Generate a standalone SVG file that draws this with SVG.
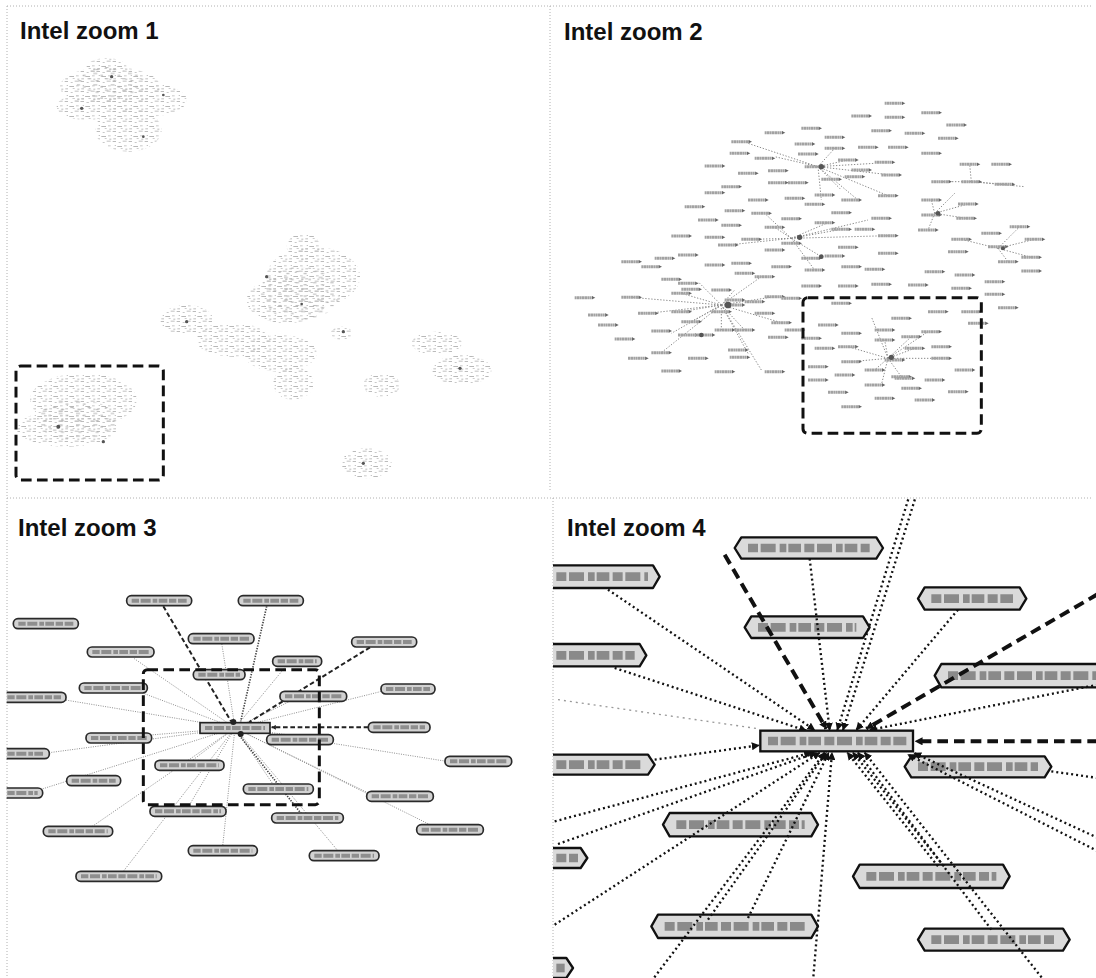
<svg xmlns="http://www.w3.org/2000/svg" xmlns:xlink="http://www.w3.org/1999/xlink" width="1096" height="978" viewBox="0 0 1096 978">
<defs>
<style>
.t{font-family:"Liberation Sans",Arial,sans-serif;font-weight:bold;font-size:24px;fill:#111}
.bd{fill:none;stroke:#b0b0b0;stroke-width:1;stroke-dasharray:1 2}
.dr{fill:none;stroke:#111;stroke-width:9;stroke-dasharray:32 16;stroke-linejoin:round}
.p2l{fill:none;stroke:#8a8a8a;stroke-width:3;stroke-dasharray:4 5}
.p3l{fill:none;stroke:#8f8f8f;stroke-width:3;stroke-dasharray:3 4}
.p3d{fill:none;stroke:#222;stroke-width:6;stroke-dasharray:14 8}
.p3k{fill:none;stroke:#444;stroke-width:5;stroke-dasharray:4 4}
.pl3{fill:#d2d2d2;stroke:#2a2a2a;stroke-width:5}
.tx3{stroke:#8e8e8e;stroke-width:12;stroke-dasharray:22 5 30 6 14 4 26 5}
.pl4{fill:#dadada;stroke:#111;stroke-width:7;stroke-linejoin:round}
.tx4{stroke:#8a8a8a;stroke-width:26;stroke-dasharray:30 8 45 12 20 6 38 10}
.hd{fill:none;stroke:#111;stroke-width:7;stroke-dasharray:6 9}
.ld{fill:none;stroke:#999;stroke-width:4;stroke-dasharray:6 12}
.td{fill:none;stroke:#111;stroke-width:12;stroke-dasharray:32 18}
.hub{fill:#555}
</style>
<pattern id="sp" patternUnits="userSpaceOnUse" width="48" height="30">
<rect x="2" y="3" width="10" height="3" fill="#bcbcbc"/><rect x="20" y="6" width="6" height="3" fill="#c8c8c8"/><rect x="32" y="2" width="12" height="3" fill="#c0c0c0"/><rect x="8" y="15" width="4" height="3" fill="#c4c4c4"/><rect x="16" y="18" width="14" height="3" fill="#b8b8b8"/><rect x="36" y="16" width="8" height="3" fill="#c8c8c8"/><rect x="4" y="25" width="8" height="3" fill="#c0c0c0"/><rect x="26" y="24" width="6" height="3" fill="#cccccc"/><rect x="40" y="26" width="6" height="3" fill="#bcbcbc"/>
</pattern>
<pattern id="sp2" patternUnits="userSpaceOnUse" x="17" y="11" width="52" height="34">
<rect x="3" y="4" width="12" height="3" fill="#b4b4b4"/><rect x="24" y="10" width="8" height="3" fill="#aaaaaa"/><rect x="38" y="20" width="10" height="3" fill="#b6b6b6"/><rect x="10" y="26" width="9" height="3" fill="#acacac"/>
</pattern>
<g id="l"><line x1="-30" y1="0" x2="24" y2="0" stroke="#a2a2a2" stroke-width="9" stroke-dasharray="6 1 8 1 5 1"/><path d="M22,-5 L32,0 L22,5 Z" fill="#666"/></g>
<marker id="ah" markerUnits="userSpaceOnUse" viewBox="0 0 10 10" refX="9" refY="5" markerWidth="24" markerHeight="24" orient="auto"><path d="M0,0 L10,5 L0,10 Z" fill="#111"/></marker>
<marker id="ah3" markerUnits="userSpaceOnUse" viewBox="0 0 10 10" refX="9" refY="5" markerWidth="14" markerHeight="14" orient="auto"><path d="M0,0 L10,5 L0,10 Z" fill="#222"/></marker>
<clipPath id="c4"><rect x="15" y="30" width="1629" height="1470"/></clipPath>
<clipPath id="c3"><rect x="20" y="30" width="1620" height="1440"/></clipPath>
</defs>
<rect width="1096" height="978" fill="#fff"/>

<g id="borders">
<line class="bd" x1="7" y1="6" x2="1092" y2="6"/>
<line class="bd" x1="7" y1="6" x2="7" y2="976"/>
<line class="bd" x1="550" y1="6" x2="550" y2="492"/>
<line class="bd" x1="7" y1="498" x2="1092" y2="498"/>
<line class="bd" x1="553" y1="498" x2="553" y2="976"/>
</g>

<g id="panel1" transform="scale(0.333333)">
<g id="clusters1">
<ellipse cx="330" cy="260" rx="150" ry="60" fill="url(#sp)"/>
<ellipse cx="440" cy="300" rx="120" ry="50" fill="url(#sp)"/>
<ellipse cx="260" cy="320" rx="90" ry="40" fill="url(#sp)"/>
<ellipse cx="385" cy="390" rx="100" ry="65" fill="url(#sp)"/>
<ellipse cx="320" cy="200" rx="60" ry="25" fill="url(#sp)"/>
<ellipse cx="330" cy="250" rx="100" ry="50" fill="url(#sp2)"/>
<ellipse cx="940" cy="830" rx="140" ry="90" fill="url(#sp)"/>
<ellipse cx="860" cy="900" rx="120" ry="70" fill="url(#sp)"/>
<ellipse cx="910" cy="740" rx="50" ry="40" fill="url(#sp)"/>
<ellipse cx="900" cy="880" rx="120" ry="80" fill="url(#sp2)"/>
<ellipse cx="560" cy="960" rx="80" ry="45" fill="url(#sp)"/>
<ellipse cx="700" cy="1020" rx="110" ry="50" fill="url(#sp)"/>
<ellipse cx="840" cy="1060" rx="110" ry="55" fill="url(#sp)"/>
<ellipse cx="880" cy="1150" rx="60" ry="50" fill="url(#sp)"/>
<ellipse cx="1025" cy="1000" rx="32" ry="20" fill="url(#sp)"/>
<ellipse cx="1310" cy="1030" rx="75" ry="35" fill="url(#sp)"/>
<ellipse cx="1385" cy="1110" rx="90" ry="45" fill="url(#sp)"/>
<ellipse cx="1145" cy="1155" rx="55" ry="35" fill="url(#sp)"/>
<ellipse cx="1100" cy="1390" rx="75" ry="45" fill="url(#sp)"/>
<ellipse cx="250" cy="1200" rx="160" ry="80" fill="url(#sp)"/>
<ellipse cx="200" cy="1285" rx="150" ry="55" fill="url(#sp)"/>
<ellipse cx="230" cy="1260" rx="120" ry="60" fill="url(#sp2)"/>
</g>
<g id="hubs1" class="hub">
<circle cx="335" cy="230" r="5"/><circle cx="245" cy="325" r="5"/><circle cx="490" cy="285" r="4"/><circle cx="430" cy="410" r="4"/>
<circle cx="800" cy="830" r="5"/><circle cx="560" cy="965" r="5"/><circle cx="1030" cy="995" r="5"/><circle cx="1380" cy="1105" r="5"/>
<circle cx="1090" cy="1390" r="5"/><circle cx="175" cy="1280" r="6"/><circle cx="310" cy="1325" r="5"/><circle cx="905" cy="912" r="4"/>
</g>
<rect id="box1" class="dr" x="48" y="1098" width="442" height="342" rx="14"/>
</g>
<text class="t" x="20" y="39">Intel zoom 1</text>

<g id="panel2" transform="translate(548,0) scale(0.333333)">
<g id="connectors2">
<path class="p2l" d="M810,500 L680,470 M810,500 L860,445 M810,500 L900,480 M810,500 L980,490 M810,500 L1030,525 M810,500 L820,600 M810,500 L880,570 M810,500 L930,600 M810,500 L1020,587 M810,500 L600,430"/>
<path class="p2l" d="M730,715 L610,718 M730,715 L540,735 M730,715 L680,682 M730,715 L880,688 M730,715 L1020,707 M730,715 L820,770 M730,715 L650,640 M730,715 L840,668 M730,715 L800,810 M730,715 L960,660"/>
<path class="p2l" d="M520,915 L400,880 M520,915 L300,940 M520,915 L250,892 M520,915 L400,935 M520,915 L430,965 M520,915 L520,990 M520,915 L590,990 M520,915 L640,830 M520,915 L680,890 M520,915 L560,870 M520,915 L450,845 M520,915 L600,1060 M520,915 L640,1110 M520,915 L340,1058 M520,915 L370,1000 M520,915 L700,968"/>
<path class="p2l" d="M1020,1075 L970,950 M1020,1075 L910,1085 M1020,1075 L1010,1020 M1020,1075 L1090,1010 M1020,1075 L1180,1075 M1020,1075 L1100,1045 M1020,1075 L1060,1130 M1020,1075 L980,1110 M1020,1075 L1000,1155 M1020,1075 L1140,995 M1020,1075 L900,1040"/>
<path class="p2l" d="M1160,640 L1150,600 M1160,640 L1260,612 M1160,640 L1255,655 M1160,640 L1140,690 M1160,640 L1220,580 M1350,745 L1415,680 M1350,745 L1460,718 M1350,745 L1450,772 M1350,745 L1240,718 M1350,745 L1380,785 M1270,545 L1265,493 M1270,545 L1370,553 M1270,545 L1180,545 M1270,545 L1430,560"/>
</g>
<g id="labels2">
<use href="#l" x="1040" y="310"/><use href="#l" x="1150" y="338"/><use href="#l" x="940" y="348"/><use href="#l" x="1040" y="352"/><use href="#l" x="1225" y="375"/><use href="#l" x="790" y="385"/><use href="#l" x="680" y="398"/><use href="#l" x="1000" y="392"/><use href="#l" x="1100" y="400"/><use href="#l" x="1200" y="415"/>
<use href="#l" x="580" y="425"/><use href="#l" x="860" y="412"/><use href="#l" x="770" y="432"/><use href="#l" x="860" y="445"/><use href="#l" x="960" y="442"/><use href="#l" x="1050" y="442"/><use href="#l" x="1150" y="460"/><use href="#l" x="575" y="460"/><use href="#l" x="650" y="475"/><use href="#l" x="780" y="462"/>
<use href="#l" x="900" y="480"/><use href="#l" x="1010" y="487"/><use href="#l" x="500" y="498"/><use href="#l" x="600" y="520"/><use href="#l" x="690" y="512"/><use href="#l" x="800" y="500"/><use href="#l" x="940" y="510"/><use href="#l" x="1030" y="525"/><use href="#l" x="1265" y="493"/><use href="#l" x="1360" y="493"/>
<use href="#l" x="550" y="560"/><use href="#l" x="690" y="548"/><use href="#l" x="750" y="548"/><use href="#l" x="850" y="538"/><use href="#l" x="920" y="530"/><use href="#l" x="1180" y="545"/><use href="#l" x="1270" y="545"/><use href="#l" x="1370" y="553"/><use href="#l" x="500" y="578"/><use href="#l" x="630" y="600"/>
<use href="#l" x="740" y="595"/><use href="#l" x="830" y="585"/><use href="#l" x="910" y="600"/><use href="#l" x="1020" y="587"/><use href="#l" x="800" y="613"/><use href="#l" x="440" y="620"/><use href="#l" x="560" y="632"/><use href="#l" x="640" y="640"/><use href="#l" x="880" y="638"/><use href="#l" x="1150" y="600"/>
<use href="#l" x="1260" y="612"/><use href="#l" x="480" y="660"/><use href="#l" x="550" y="676"/><use href="#l" x="730" y="656"/><use href="#l" x="830" y="668"/><use href="#l" x="1000" y="655"/><use href="#l" x="1150" y="645"/><use href="#l" x="1255" y="655"/><use href="#l" x="400" y="708"/><use href="#l" x="500" y="712"/>
<use href="#l" x="610" y="718"/><use href="#l" x="680" y="682"/><use href="#l" x="880" y="688"/><use href="#l" x="950" y="688"/><use href="#l" x="1020" y="707"/><use href="#l" x="1140" y="690"/><use href="#l" x="1330" y="700"/><use href="#l" x="1415" y="680"/><use href="#l" x="540" y="735"/><use href="#l" x="730" y="730"/>
<use href="#l" x="900" y="742"/><use href="#l" x="1020" y="760"/><use href="#l" x="1230" y="755"/><use href="#l" x="1240" y="718"/><use href="#l" x="1350" y="740"/><use href="#l" x="1460" y="718"/><use href="#l" x="350" y="775"/><use href="#l" x="420" y="765"/><use href="#l" x="250" y="785"/><use href="#l" x="310" y="800"/>
<use href="#l" x="500" y="795"/><use href="#l" x="580" y="790"/><use href="#l" x="680" y="750"/><use href="#l" x="790" y="775"/><use href="#l" x="860" y="768"/><use href="#l" x="910" y="800"/><use href="#l" x="980" y="808"/><use href="#l" x="1380" y="785"/><use href="#l" x="1450" y="772"/><use href="#l" x="1450" y="813"/>
<use href="#l" x="370" y="838"/><use href="#l" x="420" y="850"/><use href="#l" x="590" y="820"/><use href="#l" x="650" y="830"/><use href="#l" x="700" y="800"/><use href="#l" x="800" y="810"/><use href="#l" x="1160" y="815"/><use href="#l" x="1250" y="825"/><use href="#l" x="1340" y="845"/><use href="#l" x="1340" y="883"/>
<use href="#l" x="1380" y="923"/><use href="#l" x="110" y="893"/><use href="#l" x="250" y="892"/><use href="#l" x="400" y="880"/><use href="#l" x="430" y="868"/><use href="#l" x="520" y="870"/><use href="#l" x="560" y="900"/><use href="#l" x="620" y="905"/><use href="#l" x="680" y="890"/><use href="#l" x="730" y="895"/>
<use href="#l" x="790" y="858"/><use href="#l" x="900" y="858"/><use href="#l" x="1000" y="853"/><use href="#l" x="1110" y="855"/><use href="#l" x="1240" y="865"/><use href="#l" x="150" y="945"/><use href="#l" x="180" y="975"/><use href="#l" x="300" y="940"/><use href="#l" x="400" y="935"/><use href="#l" x="430" y="965"/>
<use href="#l" x="520" y="935"/><use href="#l" x="560" y="915"/><use href="#l" x="650" y="940"/><use href="#l" x="700" y="968"/><use href="#l" x="740" y="990"/><use href="#l" x="840" y="975"/><use href="#l" x="880" y="910"/><use href="#l" x="1170" y="935"/><use href="#l" x="1270" y="935"/><use href="#l" x="1290" y="970"/>
<use href="#l" x="230" y="1017"/><use href="#l" x="340" y="993"/><use href="#l" x="420" y="1005"/><use href="#l" x="470" y="1005"/><use href="#l" x="530" y="990"/><use href="#l" x="590" y="990"/><use href="#l" x="690" y="1012"/><use href="#l" x="790" y="1015"/><use href="#l" x="910" y="1000"/><use href="#l" x="1010" y="990"/>
<use href="#l" x="1060" y="955"/><use href="#l" x="1150" y="995"/><use href="#l" x="830" y="1045"/><use href="#l" x="900" y="1040"/><use href="#l" x="1010" y="1020"/><use href="#l" x="1090" y="1010"/><use href="#l" x="1180" y="1040"/><use href="#l" x="340" y="1058"/><use href="#l" x="270" y="1075"/><use href="#l" x="450" y="1075"/>
<use href="#l" x="570" y="1050"/><use href="#l" x="575" y="1072"/><use href="#l" x="680" y="1115"/><use href="#l" x="530" y="1115"/><use href="#l" x="370" y="1113"/><use href="#l" x="910" y="1085"/><use href="#l" x="1040" y="1080"/><use href="#l" x="1100" y="1045"/><use href="#l" x="1180" y="1075"/><use href="#l" x="810" y="1100"/>
<use href="#l" x="890" y="1125"/><use href="#l" x="980" y="1110"/><use href="#l" x="1060" y="1130"/><use href="#l" x="1250" y="1110"/><use href="#l" x="810" y="1140"/><use href="#l" x="980" y="1155"/><use href="#l" x="1070" y="1135"/><use href="#l" x="1160" y="1140"/><use href="#l" x="870" y="1177"/><use href="#l" x="1090" y="1165"/>
<use href="#l" x="1230" y="1175"/><use href="#l" x="1010" y="1195"/><use href="#l" x="1130" y="1200"/><use href="#l" x="910" y="1220"/>
</g>
<g id="hubs2" class="hub">
<circle cx="820" cy="500" r="8"/><circle cx="755" cy="712" r="8"/><circle cx="540" cy="915" r="10"/><circle cx="1030" cy="1072" r="8"/><circle cx="1170" cy="640" r="7"/><circle cx="1365" cy="745" r="6"/><circle cx="460" cy="1005" r="7"/><circle cx="820" cy="770" r="7"/>
</g>
<rect id="box2" class="dr" x="765" y="893" width="535" height="407" rx="14"/>
</g>
<text class="t" x="564" y="40">Intel zoom 2</text>

<g id="panel3" transform="translate(0,488) scale(0.333333)">
<g clip-path="url(#c3)">
<g id="connectors3">
<path class="p3l" d="M705,720 L665,465 M705,720 L400,510 M705,720 L420,612 M705,720 L860,532 M705,720 L1145,610 M705,720 L190,635 M705,720 L440,742 M705,720 L140,795 M705,720 L120,905 M705,720 L1340,820 M705,720 L560,830 M705,720 L830,905 M705,720 L1115,920 M705,720 L1300,1015 M705,720 L560,965 M705,720 L270,1020 M705,720 L668,1075 M705,720 L1015,1090 M705,720 L370,1150 M705,720 L880,635 M705,720 L900,745"/>
<path class="p3k" d="M800,355 L722,700"/>
<path class="p3k" d="M718,742 L910,985"/>
<path class="p3d" d="M490,355 L693,700"/>
<path class="p3d" d="M1110,478 L748,702"/>
<path class="p3d" d="M1105,718 L815,718" marker-end="url(#ah3)"/>
</g>
<g id="pills3">
<rect class="pl3" x="380" y="323" width="195" height="30" rx="14"/><line class="tx3" x1="395" y1="338" x2="560" y2="338"/>
<rect class="pl3" x="715" y="323" width="195" height="30" rx="14"/><line class="tx3" x1="730" y1="338" x2="895" y2="338"/>
<rect class="pl3" x="40" y="392" width="195" height="30" rx="14"/><line class="tx3" x1="55" y1="407" x2="220" y2="407"/>
<rect class="pl3" x="565" y="437" width="197" height="30" rx="14"/><line class="tx3" x1="580" y1="452" x2="747" y2="452"/>
<rect class="pl3" x="1055" y="447" width="195" height="30" rx="14"/><line class="tx3" x1="1070" y1="462" x2="1235" y2="462"/>
<rect class="pl3" x="262" y="477" width="200" height="30" rx="14"/><line class="tx3" x1="277" y1="492" x2="447" y2="492"/>
<rect class="pl3" x="818" y="505" width="147" height="30" rx="14"/><line class="tx3" x1="833" y1="520" x2="950" y2="520"/>
<rect class="pl3" x="580" y="545" width="155" height="30" rx="14"/><line class="tx3" x1="595" y1="560" x2="720" y2="560"/>
<rect class="pl3" x="238" y="585" width="204" height="30" rx="14"/><line class="tx3" x1="253" y1="600" x2="427" y2="600"/>
<rect class="pl3" x="1143" y="588" width="162" height="30" rx="14"/><line class="tx3" x1="1158" y1="603" x2="1290" y2="603"/>
<rect class="pl3" x="0" y="613" width="198" height="30" rx="14"/><line class="tx3" x1="22" y1="628" x2="183" y2="628"/>
<rect class="pl3" x="840" y="610" width="200" height="30" rx="14"/><line class="tx3" x1="855" y1="625" x2="1025" y2="625"/>
<rect class="pl3" x="1105" y="703" width="185" height="30" rx="14"/><line class="tx3" x1="1120" y1="718" x2="1275" y2="718"/>
<rect class="pl3" x="258" y="735" width="197" height="30" rx="14"/><line class="tx3" x1="273" y1="750" x2="440" y2="750"/>
<rect class="pl3" x="800" y="740" width="200" height="30" rx="14"/><line class="tx3" x1="815" y1="755" x2="985" y2="755"/>
<rect class="pl3" x="0" y="782" width="148" height="30" rx="14"/><line class="tx3" x1="22" y1="797" x2="133" y2="797"/>
<rect class="pl3" x="1335" y="805" width="200" height="30" rx="14"/><line class="tx3" x1="1350" y1="820" x2="1520" y2="820"/>
<rect class="pl3" x="465" y="817" width="207" height="30" rx="14"/><line class="tx3" x1="480" y1="832" x2="657" y2="832"/>
<rect class="pl3" x="200" y="863" width="162" height="30" rx="14"/><line class="tx3" x1="215" y1="878" x2="347" y2="878"/>
<rect class="pl3" x="0" y="900" width="128" height="30" rx="14"/><line class="tx3" x1="22" y1="915" x2="113" y2="915"/>
<rect class="pl3" x="730" y="888" width="210" height="30" rx="14"/><line class="tx3" x1="745" y1="903" x2="925" y2="903"/>
<rect class="pl3" x="1100" y="910" width="200" height="30" rx="14"/><line class="tx3" x1="1115" y1="925" x2="1285" y2="925"/>
<rect class="pl3" x="450" y="955" width="228" height="30" rx="14"/><line class="tx3" x1="465" y1="970" x2="663" y2="970"/>
<rect class="pl3" x="815" y="975" width="215" height="30" rx="14"/><line class="tx3" x1="830" y1="990" x2="1015" y2="990"/>
<rect class="pl3" x="130" y="1015" width="208" height="30" rx="14"/><line class="tx3" x1="145" y1="1030" x2="323" y2="1030"/>
<rect class="pl3" x="1250" y="1010" width="200" height="30" rx="14"/><line class="tx3" x1="1265" y1="1025" x2="1435" y2="1025"/>
<rect class="pl3" x="565" y="1073" width="207" height="30" rx="14"/><line class="tx3" x1="580" y1="1088" x2="757" y2="1088"/>
<rect class="pl3" x="928" y="1088" width="209" height="30" rx="14"/><line class="tx3" x1="943" y1="1103" x2="1122" y2="1103"/>
<rect class="pl3" x="228" y="1150" width="257" height="30" rx="14"/><line class="tx3" x1="243" y1="1165" x2="470" y2="1165"/>
</g>
<g id="hub3">
<rect x="600" y="704" width="210" height="32" fill="#cfcfcf" stroke="#222" stroke-width="5"/>
<line class="tx3" x1="615" y1="720" x2="795" y2="720"/>
<circle cx="700" cy="702" r="9" fill="#222"/><circle cx="722" cy="738" r="9" fill="#222"/>
</g>
<rect id="box3" class="dr" x="430" y="545" width="528" height="405" rx="12"/>
</g>
</g>
<text class="t" x="18" y="536">Intel zoom 3</text>

<g id="panel4" transform="translate(548,488) scale(0.333333)">
<g clip-path="url(#c4)">
<g id="pills4">
<path class="pl4" d="M580,148 H985 L1005,180 L985,212 H580 L560,180 Z"/><line class="tx4" x1="600" y1="180" x2="965" y2="180"/>
<path class="pl4" d="M-10,232 H315 L335,266 L315,300 H-10 Z"/><line class="tx4" x1="25" y1="266" x2="300" y2="266"/>
<path class="pl4" d="M1130,298 H1415 L1435,332 L1415,365 H1130 L1110,332 Z"/><line class="tx4" x1="1150" y1="332" x2="1395" y2="332"/>
<path class="pl4" d="M610,385 H945 L965,418 L945,450 H610 L590,418 Z"/><line class="tx4" x1="630" y1="418" x2="925" y2="418"/>
<path class="pl4" d="M-10,468 H275 L295,502 L275,535 H-10 Z"/><line class="tx4" x1="25" y1="502" x2="260" y2="502"/>
<path class="pl4" d="M1180,528 H1700 V598 H1180 L1160,563 Z"/><line class="tx4" x1="1200" y1="563" x2="1650" y2="563"/>
<path class="pl4" d="M-10,800 H300 L320,830 L300,860 H-10 Z"/><line class="tx4" x1="25" y1="830" x2="285" y2="830"/>
<path class="pl4" d="M1090,805 H1490 L1510,836 L1490,868 H1090 L1070,836 Z"/><line class="tx4" x1="1110" y1="836" x2="1470" y2="836"/>
<path class="pl4" d="M365,975 H790 L810,1010 L790,1045 H365 L345,1010 Z"/><line class="tx4" x1="385" y1="1010" x2="770" y2="1010"/>
<path class="pl4" d="M-10,1080 H98 L118,1110 L98,1140 H-10 Z"/><line class="tx4" x1="25" y1="1110" x2="90" y2="1110"/>
<path class="pl4" d="M935,1130 H1365 L1385,1165 L1365,1200 H935 L915,1165 Z"/><line class="tx4" x1="955" y1="1165" x2="1345" y2="1165"/>
<path class="pl4" d="M330,1280 H790 L810,1315 L790,1350 H330 L310,1315 Z"/><line class="tx4" x1="350" y1="1315" x2="770" y2="1315"/>
<path class="pl4" d="M1130,1322 H1545 L1565,1355 L1545,1388 H1130 L1110,1355 Z"/><line class="tx4" x1="1150" y1="1355" x2="1525" y2="1355"/>
<path class="pl4" d="M-10,1410 H55 L75,1440 L55,1470 H-10 Z"/><line class="tx4" x1="25" y1="1440" x2="50" y2="1440"/>
</g>
<g id="connectors4">
<path class="ld" d="M30,635 L630,722"/>
<path class="hd" d="M180,305 L800,726" marker-end="url(#ah)"/>
<path class="hd" d="M200,540 L775,728" marker-end="url(#ah)"/>
<path class="hd" d="M320,815 L633,772" marker-end="url(#ah)"/>
<path class="hd" d="M20,1000 L790,794" marker-end="url(#ah)"/>
<path class="hd" d="M30,1068 L805,794" marker-end="url(#ah)"/>
<path class="hd" d="M20,1310 L815,794" marker-end="url(#ah)"/>
<path class="hd" d="M310,1480 L830,794" marker-end="url(#ah)"/>
<path class="hd" d="M795,1480 L852,794" marker-end="url(#ah)"/>
<path class="hd" d="M480,1295 L835,794" marker-end="url(#ah)"/>
<path class="hd" d="M600,1290 L842,794" marker-end="url(#ah)"/>
<path class="hd" d="M785,212 L845,726" marker-end="url(#ah)"/>
<path class="hd" d="M1085,20 L868,726" marker-end="url(#ah)"/>
<path class="hd" d="M1105,20 L885,726" marker-end="url(#ah)"/>
<path class="hd" d="M1230,365 L925,726" marker-end="url(#ah)"/>
<path class="hd" d="M1650,590 L965,726" marker-end="url(#ah)"/>
<path class="hd" d="M1510,850 L1650,870"/>
<path class="hd" d="M1650,1050 L1098,795" marker-end="url(#ah)"/>
<path class="hd" d="M1650,1090 L1080,800" marker-end="url(#ah)"/>
<path class="hd" d="M1170,1135 L898,794" marker-end="url(#ah)"/>
<path class="hd" d="M1188,1135 L915,794" marker-end="url(#ah)"/>
<path class="hd" d="M1330,1325 L930,794" marker-end="url(#ah)"/>
<path class="hd" d="M1490,1480 L950,794" marker-end="url(#ah)"/>
<path class="td" d="M530,200 L835,722" marker-end="url(#ah)"/>
<path class="td" d="M1650,318 L955,722" marker-end="url(#ah)"/>
<path class="td" d="M1650,760 L1102,760" marker-end="url(#ah)"/>
</g>
<g id="hub4">
<rect x="637" y="728" width="458" height="62" fill="#d6d6d6" stroke="#111" stroke-width="7"/>
<line class="tx4" x1="660" y1="759" x2="1075" y2="759"/>
</g>
</g>
</g>
<text class="t" x="567" y="536">Intel zoom 4</text>
</svg>
